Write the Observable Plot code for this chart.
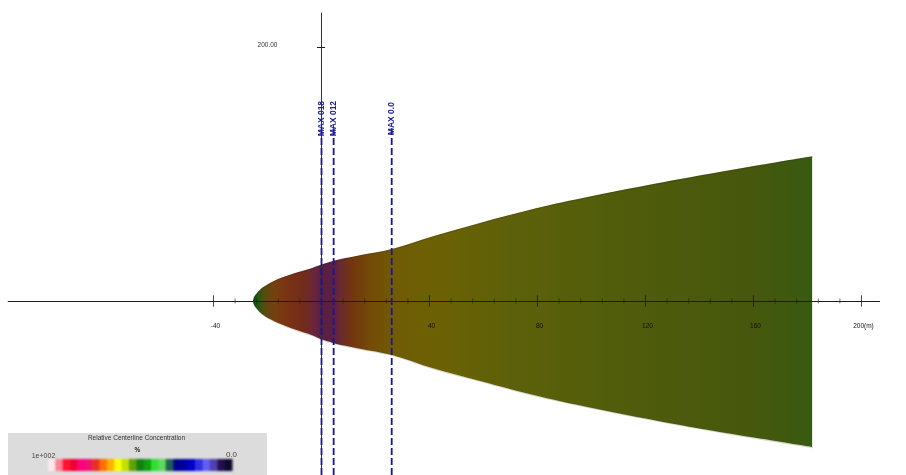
<!DOCTYPE html>
<html>
<head>
<meta charset="utf-8">
<script src="https://cdn.jsdelivr.net/npm/d3@7"></script>
<script src="https://cdn.jsdelivr.net/npm/@observablehq/plot@0.6"></script>
<style>
html,body{margin:0;padding:0;background:#fff;overflow:hidden}
#wrap{position:relative;width:906px;height:475px}
#wrap svg{display:block;font-family:"Liberation Sans",Arial,sans-serif;filter:blur(.45px)}
#legend{position:absolute;left:8px;top:433px}
#legend g[aria-label="rect"]{filter:blur(1.1px)}
</style>
</head>
<body>
<div id="wrap"></div>
<script>
// Plume outline (metres)
const plumeX = [-25.2,-24.8,-23.7,-21.9,-18.9,-15.9,-9.6,-3.3,0,4.4,14.4,26.3,41.5,58.9,83.7,133,181.9];
const plumeTop = [0,3.1,6.3,10.2,14.2,17.3,22,26,28.5,31.5,36,41,51,61.5,75,96,114];
const plumeBottom = [0,-3.1,-6.3,-10.2,-14.2,-17.3,-22.5,-27,-30,-33,-37.5,-42.5,-53,-63,-76.5,-97.6,-115];
// Colour along the centreline
const colorStopX = [-25,-23.5,-21,-17,-12,-6,-2,0,2,4.5,7,11,18,28,45,70,100,130,160,182];
const colorStops = ["#0f4a12","#1d5a10","#5a4a10","#76400f","#7a3214","#722b1c","#682440","#571f48","#5c2040","#5a1f4c","#6a2a32","#723510","#744a08","#705c04","#6b6104","#5d600a","#545e0b","#4c5a0c","#46580d","#385a12"];
// Axes
const majorTicks = [-40,40,80,120,160,200];
const majorLabels = ["-40","40","80","120","160","200(m)"];
const minorTicks = [-32,-24,-16,-8,0,8,16,24,32,48,56,64,72,88,96,104,112,128,136,144,152,168,176,184,192];
const yTickValue = 200;
const yTickLabel = "200.00";
// Monitor lines
const monitorX = [0,4.5,26];
const monitorLabels = ["MAX 018","MAX 012","MAX 0.0"];
// Legend
const legendTitle = "Relative Centerline Concentration";
const legendUnit = "%";
const legendHigh = "1e+002";
const legendLow = "0.0";
const legendColors = ["#ffe8ec","#ff8090","#ff1030","#f00030","#ff0080","#f01070","#e83020","#ff7000","#ffb000","#ffff00","#c0e000","#60a000","#108010","#10a010","#30e030","#60d860","#206050","#000090","#0000a0","#0000d0","#3030e0","#6060f0","#5040b0","#201050","#100830"];

const plume = plumeX.map((x,i)=>({x,top:plumeTop[i],bottom:plumeBottom[i]}));

const gradientDefs = (index, {x}) => {
  const defs = document.createElementNS("http://www.w3.org/2000/svg","defs");
  const g = document.createElementNS("http://www.w3.org/2000/svg","linearGradient");
  g.setAttribute("id","plumeFill");
  g.setAttribute("gradientUnits","userSpaceOnUse");
  g.setAttribute("x1",x(colorStopX[0]));
  g.setAttribute("x2",x(colorStopX[colorStopX.length-1]));
  g.setAttribute("y1",0); g.setAttribute("y2",0);
  const span = colorStopX[colorStopX.length-1]-colorStopX[0];
  colorStops.forEach((c,i)=>{
    const s = document.createElementNS("http://www.w3.org/2000/svg","stop");
    s.setAttribute("offset",(colorStopX[i]-colorStopX[0])/span);
    s.setAttribute("stop-color",c);
    g.appendChild(s);
  });
  defs.appendChild(g);
  return defs;
};

const axisInk = "#1c1c1c";
const edge = {x:"x",curve:"catmull-rom",stroke:"#2c2400",strokeOpacity:.18,strokeWidth:1.2};
const chart = Plot.plot({
  width:906, height:475, margin:0,
  x:{domain:[-118.89,216.67],axis:null},
  y:{domain:[-137,237],axis:null},
  marks:[
    gradientDefs,
    Plot.areaY(plume,{x:"x",y1:"bottom",y2:"top",fill:"url(#plumeFill)",curve:"catmull-rom"}),
    Plot.line(plume,{...edge,y:"top"}),
    Plot.line(plume,{...edge,y:"bottom"}),
    Plot.ruleY([0],{x1:-116,x2:207,stroke:axisInk,strokeWidth:1}),
    Plot.ruleX([0],{y1:-137,y2:227,stroke:"#333",strokeWidth:1}),
    Plot.ruleX(minorTicks,{y1:-2,y2:2,stroke:axisInk,strokeOpacity:.6}),
    Plot.ruleX(majorTicks,{y1:-4.5,y2:4.5,stroke:axisInk,strokeOpacity:.8}),
    Plot.ruleY([yTickValue],{x1:-1.5,x2:1.5,stroke:axisInk}),
    Plot.text(majorTicks,{x:d=>d,y:0,text:(d,i)=>majorLabels[i],dy:24,fontSize:6.5,fill:"#111",dx:2}),
    Plot.text([yTickValue],{x:-20,y:d=>d,text:()=>yTickLabel,dy:-3,fontSize:6.5,fill:"#333"}),
    Plot.ruleX(monitorX,{y1:-137,y2:136,stroke:"#1a1a80",strokeWidth:1.8,strokeDasharray:"7,3"}),
    Plot.text(monitorX,{x:d=>d,y:144,text:(d,i)=>monitorLabels[i],rotate:-90,fontSize:8.5,fontWeight:"bold",fill:"#1c1c96"})
  ]
});
document.getElementById("wrap").appendChild(chart);

const legendData = legendColors.map((c,i)=>({i,c}));
const legend = Plot.plot({
  width:259, height:42, margin:0,
  style:{background:"#dcdcdc"},
  x:{type:"linear",domain:[-40,219],axis:null},
  y:{domain:[42,0],axis:null},
  marks:[
    Plot.rectY(legendData,{x1:d=>d.i*184/legendColors.length,x2:d=>(d.i+1)*184/legendColors.length+.5,y1:26,y2:38,fill:"c"}),
    Plot.text([legendTitle],{x:88,y:4,fontSize:6.5,fill:"#333"}),
    Plot.text([legendUnit],{x:89,y:16,fontSize:6.5,fill:"#222",fontWeight:"bold"}),
    Plot.text([legendHigh],{x:-5,y:22,fontSize:7,fill:"#444"}),
    Plot.text([legendLow],{x:183,y:21,fontSize:8,fill:"#444"})
  ]
});
legend.id="legend";
document.getElementById("wrap").appendChild(legend);
</script>
</body>
</html>
